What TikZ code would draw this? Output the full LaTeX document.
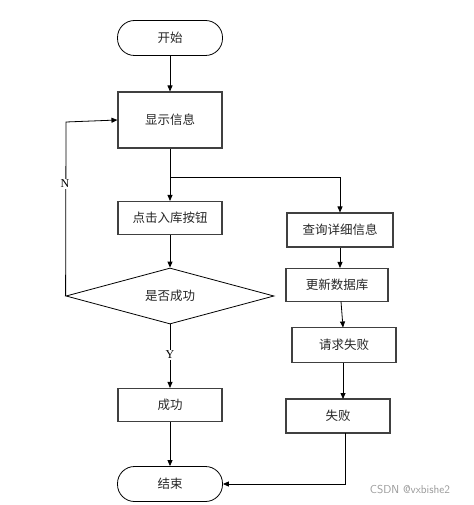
\documentclass[tikz,border=0pt]{standalone}
\usepackage{fontspec}
\setmainfont{Liberation Serif}
\newfontfamily\cjk{Noto Sans CJK SC}
\usetikzlibrary{shapes.geometric,arrows.meta}
\begin{document}
\begin{tikzpicture}[x=1pt,y=-1pt,
  every node/.style={font=\cjk\fontsize{12.5}{14}\selectfont,text=black!85},
  box/.style={draw=black!75,line width=1.1pt,minimum height=33pt,inner sep=0pt},
  term/.style={draw=black,line width=0.8pt,rounded corners=17pt,minimum width=105pt,minimum height=35pt,inner sep=0pt},
  dia/.style={draw=black,line width=0.8pt,diamond,aspect=3.7,minimum width=208pt,minimum height=56pt,inner sep=0pt},
  arr/.style={draw=black,line width=0.8pt,-{Triangle[length=6pt,width=5pt]}},
  ln/.style={draw=black,line width=0.8pt},
  lbl/.style={font=\fontsize{12}{14}\selectfont,text=black}]
\useasboundingbox (0,0) rectangle (473,505);
\node[term] (start) at (170,38) {开始};
\node[box,minimum width=104pt,minimum height=56pt] (show) at (170,120) {显示信息};
\node[box,minimum width=104pt] (click) at (170,218) {点击入库按钮};
\node[dia] (ok) at (170,296) {是否成功};
\node[box,minimum width=104pt] (succ) at (170,405) {成功};
\node[term] (end) at (170,484) {结束};
\node[box,minimum width=106pt,minimum height=34pt] (query) at (340,230) {查询详细信息};
\node[box,minimum width=102pt] (upd) at (337,285) {更新数据库};
\node[box,minimum width=104pt,minimum height=35pt] (req) at (344,345) {请求失败};
\node[box,minimum width=104pt,minimum height=34pt] (fail) at (338,416) {失败};
\coordinate (br) at (170,177);
\coordinate (a1) at (341,301.5);
\coordinate (a2) at (343,327.5);
\coordinate (a3) at (343,362.5);
\coordinate (a4) at (343,399);
\coordinate (a5) at (345,433);
\draw[arr] (start) -- (show);
\draw[ln] (show.south) -- (br);
\draw[arr] (br) -- (click);
\draw[arr] (br) -| (query.north);
\draw[arr] (click) -- (ok);
\draw[arr] (ok.west) -- (66,122) -- (show.west);
\node[lbl] (n) at (65,184) [fill=white,inner sep=1pt] {N};
\draw[arr] (ok.south) -- (succ.north);
\node[lbl] (y) at (170,355) [fill=white,inner sep=1pt] {Y};
\draw[arr] (succ) -- (end);
\draw[arr] (query.south) -- (query.south |- upd.north);
\draw[arr] (a1) -- (a2);
\draw[arr] (a3) -- (a4);
\draw[arr] (a5) |- (end.east);
\node[font=\fontsize{11.5}{13}\selectfont\sffamily,text=black!40] (wm) at (410,490) {CSDN @vxbishe2};
\end{tikzpicture}
\end{document}
